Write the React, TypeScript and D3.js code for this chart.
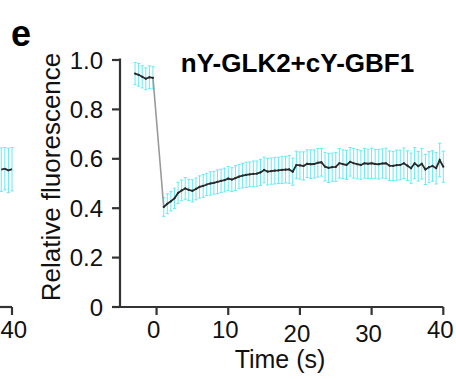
import React from "react";
import * as d3 from "d3";

// ---- data ----
const preTimes = [-3, -2.5, -2, -1.5, -1, -0.5];
const preValues = [0.945, 0.94, 0.932, 0.924, 0.93, 0.928];
const preErrors = [0.045, 0.046, 0.045, 0.044, 0.046, 0.045];

const postStart = 1;
const postStep = 0.5;
const postValues = [
  0.405, 0.418, 0.428, 0.44, 0.462, 0.472, 0.48, 0.474, 0.47, 0.478,
  0.486, 0.49, 0.496, 0.5, 0.503, 0.507, 0.511, 0.514, 0.52, 0.516,
  0.522, 0.528, 0.532, 0.535, 0.537, 0.539, 0.54, 0.545, 0.555, 0.548,
  0.55, 0.552, 0.553, 0.555, 0.556, 0.557, 0.548, 0.575, 0.573, 0.571,
  0.58, 0.578, 0.579, 0.584, 0.586, 0.568, 0.563, 0.566, 0.567, 0.582,
  0.578, 0.575, 0.588, 0.582, 0.578, 0.575, 0.582, 0.58, 0.582, 0.579,
  0.578, 0.581, 0.582, 0.572, 0.571, 0.574, 0.575, 0.582, 0.572, 0.562,
  0.582, 0.57, 0.58, 0.557, 0.566, 0.571, 0.562, 0.595, 0.568,
];
const postErrors = [
  0.038, 0.04, 0.039, 0.041, 0.043, 0.042, 0.044, 0.043, 0.045, 0.044,
  0.045, 0.046, 0.045, 0.047, 0.046, 0.048, 0.047, 0.048, 0.049, 0.048,
  0.05, 0.049, 0.05, 0.051, 0.05, 0.052, 0.051, 0.053, 0.052, 0.054,
  0.053, 0.054, 0.053, 0.055, 0.054, 0.056, 0.055, 0.056, 0.055, 0.057,
  0.056, 0.058, 0.057, 0.058, 0.056, 0.058, 0.059, 0.057, 0.058, 0.06,
  0.058, 0.059, 0.058, 0.06, 0.059, 0.058, 0.06, 0.059, 0.061, 0.058,
  0.06, 0.059, 0.061, 0.06, 0.059, 0.061, 0.06, 0.062, 0.06, 0.061,
  0.063, 0.06, 0.062, 0.061, 0.063, 0.062, 0.064, 0.068, 0.063,
];
const postTimes = postValues.map((_, i) => postStart + i * postStep);

// tail of the neighbouring panel on the left
const leftTimes = [38.5, 39, 39.5, 40];
const leftValues = [0.556, 0.56, 0.553, 0.558];
const leftErrors = [0.088, 0.086, 0.09, 0.088];

const yTicks = [0, 0.2, 0.4, 0.6, 0.8, 1.0];
const yTickLabels = ["0", "0.2", "0.4", "0.6", "0.8", "1.0"];
const xTicks = [0, 10, 20, 30, 40];
const leftXTicks = [40];

const title = "nY-GLK2+cY-GBF1";
const panelLabel = "e";
const xLabel = "Time (s)";
const yLabel = "Relative fluorescence";

const FONT = "'Liberation Sans', Arial, Helvetica, sans-serif";
const AXIS = "#333";
const CYAN = "#66eaf3";
const LINE = "#2a2a2a";

export default function App() {
  const W = 456;
  const H = 379;
  const x = d3.scaleLinear().domain([-5.1, 40]).range([120, 443.3]);
  const y = d3.scaleLinear().domain([0, 1]).range([307, 60]);
  const xl = d3.scaleLinear().domain([30, 40]).range([12 - 71.67, 12]);

  const pre = preTimes.map((t, i) => ({ t, v: preValues[i], e: preErrors[i] }));
  const post = postTimes.map((t, i) => ({ t, v: postValues[i], e: postErrors[i] }));
  const left = leftTimes.map((t, i) => ({ t, v: leftValues[i], e: leftErrors[i] }));

  const line = d3
    .line<{ t: number; v: number }>()
    .x((d) => x(d.t))
    .y((d) => y(d.v));
  const lineL = d3
    .line<{ t: number; v: number }>()
    .x((d) => xl(d.t))
    .y((d) => y(d.v));

  const errBars = (data: { t: number; v: number; e: number }[], sx: (n: number) => number, key: string) =>
    data.map((d, i) => {
      const cx = sx(d.t);
      const y0 = y(d.v - d.e);
      const y1 = y(d.v + d.e);
      return (
        <g key={key + i} stroke={CYAN} strokeWidth={1}>
          <line x1={cx} x2={cx} y1={y0} y2={y1} />
          <line x1={cx - 1.6} x2={cx + 1.6} y1={y0} y2={y0} />
          <line x1={cx - 1.6} x2={cx + 1.6} y1={y1} y2={y1} />
        </g>
      );
    });

  const lastPre = pre[pre.length - 1];
  const firstPost = post[0];
  const xLabelDy = (t: number) => (t === 20 || t === 30 ? 3.5 : 0);

  return (
    <svg
      width={W}
      height={H}
      viewBox={`0 0 ${W} ${H}`}
      style={{ position: "absolute", left: 0, top: 0, background: "#fff" }}
      fontFamily={FONT}
    >
      {/* left neighbouring panel tail */}
      {errBars(left, xl, "l")}
      <path d={lineL(left) || ""} fill="none" stroke={LINE} strokeWidth={1.8} />
      <line x1={0} x2={xl(40)} y1={y(0)} y2={y(0)} stroke={AXIS} strokeWidth={2.2} />
      {leftXTicks.map((t) => (
        <g key={"lt" + t}>
          <line x1={xl(t)} x2={xl(t)} y1={y(0)} y2={y(0) + 8} stroke={AXIS} strokeWidth={2.2} />
          <text x={0.5} y={338} fontSize={24} textAnchor="start" fill="#111">
            {t}
          </text>
        </g>
      ))}

      {/* panel letter */}
      <text x={11} y={46} fontSize={36} fontWeight="bold" fill="#000">
        {panelLabel}
      </text>

      {/* error bars */}
      {errBars(pre, x, "p")}
      {errBars(post, x, "q")}

      {/* bleach drop connector */}
      <line
        x1={x(lastPre.t)}
        y1={y(lastPre.v)}
        x2={x(firstPost.t)}
        y2={y(firstPost.v)}
        stroke="#9a9a9a"
        strokeWidth={1.6}
      />

      {/* mean lines */}
      <path d={line(pre) || ""} fill="none" stroke={LINE} strokeWidth={1.8} />
      <path d={line(post) || ""} fill="none" stroke={LINE} strokeWidth={1.8} />
      {[...pre, ...post].map((d, i) => (
        <circle key={"c" + i} cx={x(d.t)} cy={y(d.v)} r={1.1} fill={LINE} />
      ))}

      {/* axes */}
      <line x1={x(-5.1)} x2={x(-5.1)} y1={y(0)} y2={y(1) - 1.5} stroke={AXIS} strokeWidth={2.2} />
      <line x1={x(-5.1)} x2={x(40)} y1={y(0)} y2={y(0)} stroke={AXIS} strokeWidth={2.2} />
      {yTicks.map((t, i) => (
        <g key={"yt" + i}>
          <line x1={112} x2={x(-5.1)} y1={y(t)} y2={y(t)} stroke={AXIS} strokeWidth={2.2} />
          <text x={103} y={y(t) + 8.5} fontSize={24} textAnchor="end" fill="#111">
            {yTickLabels[i]}
          </text>
        </g>
      ))}
      {xTicks.map((t) => (
        <g key={"xt" + t}>
          <line x1={x(t)} x2={x(t)} y1={y(0)} y2={y(0) + 8} stroke={AXIS} strokeWidth={2.2} />
          <text x={x(t) - 3} y={338 + xLabelDy(t)} fontSize={24} textAnchor="middle" fill="#111">
            {t}
          </text>
        </g>
      ))}

      {/* labels */}
      <text x={280} y={368} fontSize={25} textAnchor="middle" fill="#111">
        {xLabel}
      </text>
      <text
        transform={`translate(60, ${(52 + 302) / 2}) rotate(-90)`}
        fontSize={26}
        textAnchor="middle"
        fill="#111"
      >
        {yLabel}
      </text>
      <text x={297.5} y={72} fontSize={26} fontWeight="bold" textAnchor="middle" fill="#000">
        {title}
      </text>
    </svg>
  );
}
